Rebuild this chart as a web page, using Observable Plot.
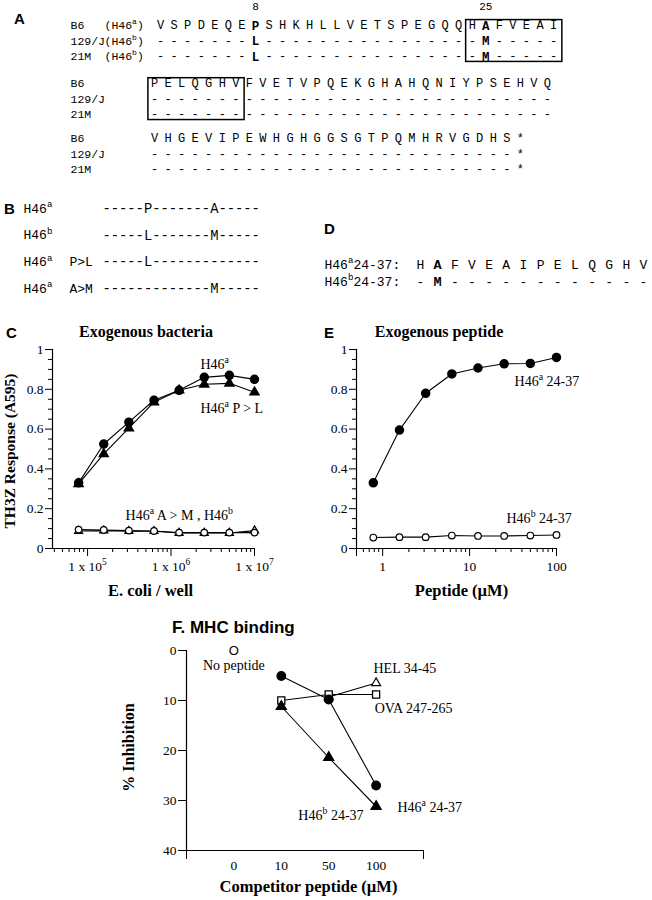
<!DOCTYPE html>
<html><head><meta charset="utf-8">
<script src="https://cdn.jsdelivr.net/npm/d3@7"></script>
<script src="https://cdn.jsdelivr.net/npm/@observablehq/plot@0.6"></script>
<style>
html,body{margin:0;padding:0;background:#fff;}
#fig{position:relative;width:652px;height:900px;overflow:hidden;background:#fff;color:#000;}
#fig svg{position:absolute;left:0;overflow:visible;max-width:none;}
.lab{position:absolute;white-space:nowrap;line-height:1;color:#000;}
.pl{font-family:"Liberation Sans",Arial,sans-serif;font-weight:bold;font-size:15px;}
.ttl{font-family:"Liberation Serif","Times New Roman",serif;font-weight:bold;font-size:16px;}
.ttlF{font-family:"Liberation Sans",Arial,sans-serif;font-weight:bold;font-size:17px;}
</style></head><body><div id="fig"></div>
<script>
// ================= DATA =================
// Panel A: sequence alignment
const seqStrains = ["B6", "129/J", "21M"];
const seqAlleles = ["(H46^a^)", "(H46^b^)", "(H46^b^)"];
const seqB6   = ["VSPDEQEPSHKHLLVETSPEGQQHAFVEAI", "PELQGHVFVETVPQEKGHAHQNIYPSEHVQ", "VHGEVIPEWHGHGGSGTPQMHRVGDHS*"];
const seq129J = ["-------L----------------M-----", "------------------------------", "---------------------------*"];
const seq21M  = ["-------L----------------M-----", "------------------------------", "---------------------------*"];
const seqBoldCols = [7, 24];            // residues 8 and 25 of block 1
const seqNumberCols = [7, 24];
const seqNumberLabels = ["8", "25"];
const seqBoxes = [{block: 0, from: 23, to: 29}, {block: 1, from: 0, to: 6}];

// Panel B: mutants
const mutNames = ["H46^a^", "H46^b^", "H46^a^", "H46^a^"];
const mutTags  = ["", "", "P>L", "A>M"];
const mutSeqs  = ["-----P-------A-----", "-----L-------M-----", "-----L-------------", "-------------M-----"];

// Panel D: peptides
const pepNames = ["H46^a^24-37:", "H46^b^24-37:"];
const pepSeqs  = ["HAFVEAIPELQGHV", "-M------------"];
const pepBoldCol = 1;

// Panel C: exogenous bacteria
const ecoliPerWell = [78125, 156250, 312500, 625000, 1250000, 2500000, 5000000, 10000000];
const bactH46a     = [0.33, 0.525, 0.635, 0.745, 0.795, 0.86, 0.87, 0.85];
const bactPtoL     = [0.325, 0.475, 0.605, 0.735, 0.795, 0.825, 0.83, 0.785];
const bactAtoM     = [0.088, 0.09, 0.087, 0.087, 0.078, 0.078, 0.078, 0.09];
const bactH46b     = [0.095, 0.093, 0.09, 0.088, 0.08, 0.08, 0.08, 0.08];
const bactYTicks   = [0, 0.2, 0.4, 0.6, 0.8, 1];
const bactXTicks   = [1e5, 1e6, 1e7];

// Panel E: exogenous peptide
const peptideUM  = [0.78, 1.56, 3.125, 6.25, 12.5, 25, 50, 100];
const pepRespA   = [0.33, 0.595, 0.78, 0.877, 0.907, 0.928, 0.93, 0.96];
const pepRespB   = [0.055, 0.057, 0.057, 0.065, 0.063, 0.063, 0.065, 0.068];
const pepXTicks  = [0.5, 1, 10, 100];

// Panel F: MHC binding
const competitorLabels = ["0", "10", "50", "100"];
const competitorConc   = ["10", "50", "100"];
const inhibH46a = [5.1, 9.8, 27];
const inhibH46b = [11.2, 21.4, 31.2];
const inhibOVA  = [10, 8.8, 8.8];
const inhibHELconc = ["50", "100"];
const inhibHEL  = [9.3, 6.5];
const inhibNone = 0;
const inhibYTicks = [0, 10, 20, 30, 40];

// ================= HELPERS =================
const serif = '"Liberation Serif","Times New Roman",Times,serif';
const mono = '"Liberation Mono","Courier New",Courier,monospace';
const fig = document.getElementById("fig");
const baseStyle = {fontFamily: serif, fontSize: "13.5px", background: "transparent", overflow: "visible", color: "black"};

function supify(root) {
  root.querySelectorAll("text").forEach(t => {
    const s = t.textContent;
    if (!s.includes("^")) return;
    const fs = parseFloat(getComputedStyle(t).fontSize) || 12;
    const up = fs * 0.42;
    const parts = s.split("^");
    t.textContent = "";
    let raised = false;
    parts.forEach((p, i) => {
      if (!p) return;
      const sup = i % 2 === 1;
      const ts = document.createElementNS("http://www.w3.org/2000/svg", "tspan");
      ts.textContent = p;
      if (sup) { ts.setAttribute("font-size", (fs * 0.7).toFixed(1)); if (!raised) { ts.setAttribute("dy", (-up).toFixed(1)); raised = true; } }
      else if (raised) { ts.setAttribute("dy", up.toFixed(1)); raised = false; }
      t.appendChild(ts);
    });
  });
}
function place(svg, top) {
  svg.style.position = "absolute";
  svg.style.left = "0px";
  svg.style.top = top + "px";
  fig.appendChild(svg);
  supify(svg);
}
function htmlLabel(text, x, y, cls, anchor) {
  const d = document.createElement("div");
  d.className = "lab " + cls;
  d.textContent = text;
  d.style.left = x + "px";
  d.style.top = y + "px";
  d.style.transform = anchor === "middle" ? "translate(-50%,-50%)" : "translate(0,-50%)";
  fig.appendChild(d);
}
const zip = (xs, ys) => xs.map((x, i) => ({x, y: ys[i]}));
const minorLinear = (max, step, majorStep) => d3.range(step, max, step).filter(v => Math.abs(v / majorStep - Math.round(v / majorStep)) > 1e-6);
const minorLog = (lo, hi) => { const out = []; for (let e = Math.floor(Math.log10(lo)); e <= Math.ceil(Math.log10(hi)); e++) for (let k = 2; k <= 9; k++) { const v = k * Math.pow(10, e); if (v > lo * 1.0001 && v < hi) out.push(v); } return out; };
const axisTitleX = (t, dx, dy) => Plot.text([t], {frameAnchor: "bottom", textAnchor: "middle", lineAnchor: "middle", dx, dy, fontWeight: "bold", fontSize: 16.5});
const axisTitleY = (t, dx, dy, fs) => Plot.text([t], {frameAnchor: "left", textAnchor: "middle", lineAnchor: "middle", rotate: -90, dx, dy, fontWeight: "bold", fontSize: fs});

// ================= PANEL A =================
{
  const blockStart = [0, 3.75, 7.3];
  const blockShift = [0.45, 0, 0];
  const rowsSeq = [seqB6, seq129J, seq21M];
  const letters = [];
  rowsSeq.forEach((blocks, r) => blocks.forEach((s, b) => [...s].forEach((ch, i) =>
    letters.push({ch, col: i + blockShift[b], row: blockStart[b] + r, bold: b === 0 && seqBoldCols.includes(i)}))));
  const names = [];
  blockStart.forEach((bs, b) => seqStrains.forEach((n, r) => names.push({row: bs + r, name: n, allele: b === 0 ? seqAlleles[r] : ""})));
  const nums = seqNumberCols.map((c, i) => ({col: c + blockShift[0], row: -1.25, label: seqNumberLabels[i]}));
  const svg = Plot.plot({
    width: 652, height: 185, margin: 0,
    style: baseStyle,
    x: {domain: [0, 29], range: [154, 154 + 29 * 13.55], axis: null},
    y: {domain: [0, 1], range: [25, 40.5], axis: null},
    marks: [
      Plot.text(letters.filter(d => !d.bold), {x: "col", y: "row", text: "ch", fontFamily: mono, fontSize: 12}),
      Plot.text(letters.filter(d => d.bold), {x: "col", y: "row", text: "ch", fontFamily: mono, fontSize: 12.5, fontWeight: "bold"}),
      Plot.text(names, {y: "row", text: "name", frameAnchor: "left", dx: 70, textAnchor: "start", fontFamily: mono, fontSize: 11.5}),
      Plot.text(names.filter(d => d.allele), {y: "row", text: "allele", frameAnchor: "left", dx: 104, textAnchor: "start", fontFamily: mono, fontSize: 11.5}),
      Plot.text(nums, {x: "col", y: "row", text: "label", fontFamily: mono, fontSize: 11}),
      Plot.rect(seqBoxes, {x1: d => d.from - 0.45 + blockShift[d.block], x2: d => d.to + 0.65 + blockShift[d.block],
        y1: d => blockStart[d.block] - 0.35, y2: d => blockStart[d.block] + 2.35, fill: "none", stroke: "black", strokeWidth: 1.5})
    ]
  });
  place(svg, 0);
}

// ================= PANEL B =================
{
  const rows = mutSeqs.map((s, i) => ({row: i, name: mutNames[i], tag: mutTags[i], seq: s}));
  const svg = Plot.plot({
    width: 320, height: 110, margin: 0,
    style: baseStyle,
    y: {domain: [0, 3], range: [18, 98], axis: null},
    marks: [
      Plot.text(rows, {y: "row", text: "name", frameAnchor: "left", dx: 23, textAnchor: "start", fontFamily: mono, fontSize: 13}),
      Plot.text(rows, {y: "row", text: "tag", frameAnchor: "left", dx: 69, textAnchor: "start", fontFamily: mono, fontSize: 13}),
      Plot.text(rows, {y: "row", text: "seq", frameAnchor: "left", dx: 102, textAnchor: "start", fontFamily: mono, fontSize: 13.8})
    ]
  });
  place(svg, 190);
}

// ================= PANEL D =================
{
  const letters = [];
  pepSeqs.forEach((s, r) => [...s].forEach((ch, i) => letters.push({ch, col: i, row: r, bold: i === pepBoldCol})));
  const rows = pepNames.map((n, i) => ({row: i, name: n}));
  const svg = Plot.plot({
    width: 652, height: 80, margin: 0,
    style: baseStyle,
    x: {domain: [0, 13], range: [420, 643], axis: null},
    y: {domain: [0, 1], range: [44, 61], axis: null},
    marks: [
      Plot.text(rows, {y: "row", text: "name", frameAnchor: "left", dx: 324, textAnchor: "start", fontFamily: mono, fontSize: 13}),
      Plot.text(letters.filter(d => !d.bold), {x: "col", y: "row", text: "ch", fontFamily: mono, fontSize: 13}),
      Plot.text(letters.filter(d => d.bold), {x: "col", y: "row", text: "ch", fontFamily: mono, fontSize: 13.5, fontWeight: "bold"})
    ]
  });
  place(svg, 220);
}

// ================= PANEL C =================
{
  const xMin = 3.8e4;
  const svg = Plot.plot({
    width: 652, height: 300, marginLeft: 52, marginRight: 398, marginTop: 29, marginBottom: 72,
    style: baseStyle,
    x: {type: "log", domain: [xMin, 1e7]},
    y: {domain: [0, 1]},
    marks: [
      Plot.ruleX([xMin], {strokeWidth: 1.2}),
      Plot.ruleY([0], {strokeWidth: 1.2}),
      Plot.axisY(bactYTicks, {tickSize: 7, tickPadding: 2, tickFormat: d => String(d), label: null}),
      Plot.axisY(minorLinear(1, 0.05, 0.2), {tickSize: 4, fill: "none", tickFormat: () => "", label: null}),
      Plot.axisX(bactXTicks, {tickSize: 8, tickPadding: 5, tickFormat: d => "1 x 10^" + Math.round(Math.log10(d)) + "^", label: null}),
      Plot.axisX(minorLog(xMin, 1e7), {tickSize: 4, fill: "none", tickFormat: () => "", label: null}),
      Plot.line(zip(ecoliPerWell, bactAtoM), {x: "x", y: "y", stroke: "black", strokeWidth: 1.1}),
      Plot.line(zip(ecoliPerWell, bactH46b), {x: "x", y: "y", stroke: "black", strokeWidth: 1.1}),
      Plot.line(zip(ecoliPerWell, bactPtoL), {x: "x", y: "y", stroke: "black", strokeWidth: 1.1}),
      Plot.line(zip(ecoliPerWell, bactH46a), {x: "x", y: "y", stroke: "black", strokeWidth: 1.1}),
      Plot.dot(zip(ecoliPerWell, bactAtoM), {x: "x", y: "y", symbol: "triangle", r: 3, fill: "white", stroke: "black", strokeWidth: 1.2}),
      Plot.dot(zip(ecoliPerWell, bactH46b), {x: "x", y: "y", symbol: "circle", r: 3.3, fill: "white", stroke: "black", strokeWidth: 1.2}),
      Plot.dot(zip(ecoliPerWell, bactPtoL), {x: "x", y: "y", symbol: "triangle", r: 3.3, fill: "black", stroke: "black"}),
      Plot.dot(zip(ecoliPerWell, bactH46a), {x: "x", y: "y", symbol: "circle", r: 4, fill: "black", stroke: "black"}),
      Plot.text([{x: 2.25e6, y: 0.925, t: "H46^a^"}, {x: 2.25e6, y: 0.705, t: "H46^a^ P > L"}, {x: 2.85e5, y: 0.165, t: "H46^a^ A > M , H46^b^"}],
        {x: "x", y: "y", text: "t", textAnchor: "start", fontSize: 14}),
      axisTitleX("E. coli / well", -3, 42),
      axisTitleY("TH3Z Response (A595)", -42, 2, 15.5)
    ]
  });
  place(svg, 320);
}

// ================= PANEL E =================
{
  const svg = Plot.plot({
    width: 652, height: 300, marginLeft: 356, marginRight: 96, marginTop: 29, marginBottom: 72,
    style: baseStyle,
    x: {type: "log", domain: [0.5, 100]},
    y: {domain: [0, 1]},
    marks: [
      Plot.ruleX([0.5], {strokeWidth: 1.2}),
      Plot.ruleY([0], {strokeWidth: 1.2}),
      Plot.axisY(bactYTicks, {tickSize: 7, tickPadding: 2, tickFormat: d => String(d), label: null}),
      Plot.axisY(minorLinear(1, 0.05, 0.2), {tickSize: 4, fill: "none", tickFormat: () => "", label: null}),
      Plot.axisX(pepXTicks, {tickSize: 8, tickPadding: 5, tickFormat: d => String(d), label: null}),
      Plot.axisX(minorLog(0.5, 100), {tickSize: 4, fill: "none", tickFormat: () => "", label: null}),
      Plot.line(zip(peptideUM, pepRespB), {x: "x", y: "y", stroke: "black", strokeWidth: 1.1}),
      Plot.line(zip(peptideUM, pepRespA), {x: "x", y: "y", stroke: "black", strokeWidth: 1.1}),
      Plot.dot(zip(peptideUM, pepRespB), {x: "x", y: "y", symbol: "circle", r: 3.3, fill: "white", stroke: "black", strokeWidth: 1.2}),
      Plot.dot(zip(peptideUM, pepRespA), {x: "x", y: "y", symbol: "circle", r: 4, fill: "black", stroke: "black"}),
      Plot.text([{x: 32.9, y: 0.84, t: "H46^a^ 24-37"}, {x: 26.6, y: 0.15, t: "H46^b^ 24-37"}],
        {x: "x", y: "y", text: "t", textAnchor: "start", fontSize: 14}),
      axisTitleX("Peptide (\u00b5M)", 5, 42)
    ]
  });
  place(svg, 320);
}

// ================= PANEL F =================
{
  const ix = c => competitorLabels.indexOf(c);
  const ser = (concs, vals) => concs.map((c, i) => ({x: ix(c), y: vals[i]}));
  const svg = Plot.plot({
    width: 652, height: 260, marginLeft: 186, marginRight: 229, marginTop: 10, marginBottom: 50,
    style: baseStyle,
    x: {domain: [-1, competitorLabels.length]},
    y: {domain: [0, 40], reverse: true},
    marks: [
      Plot.ruleX([-1], {strokeWidth: 1.2}),
      Plot.ruleY([40], {strokeWidth: 1.2}),
      Plot.axisY(inhibYTicks, {tickSize: 8, tickPadding: 2, label: null}),
      Plot.axisX(competitorLabels.map((_, i) => i), {tickSize: 0, tickPadding: 10, tickFormat: i => competitorLabels[i], label: null}),
      Plot.axisX([-1, competitorLabels.length], {tickSize: 9, fill: "none", tickFormat: () => "", label: null}),
      Plot.line(ser(inhibHELconc, inhibHEL), {x: "x", y: "y", stroke: "black", strokeWidth: 1.1}),
      Plot.line(ser(competitorConc, inhibOVA), {x: "x", y: "y", stroke: "black", strokeWidth: 1.1}),
      Plot.line(ser(competitorConc, inhibH46b), {x: "x", y: "y", stroke: "black", strokeWidth: 1.1}),
      Plot.line(ser(competitorConc, inhibH46a), {x: "x", y: "y", stroke: "black", strokeWidth: 1.1}),
      Plot.dot(ser(inhibHELconc, inhibHEL), {x: "x", y: "y", symbol: "triangle", r: 3.3, fill: "white", stroke: "black", strokeWidth: 1.2}),
      Plot.dot(ser(competitorConc, inhibOVA), {x: "x", y: "y", symbol: "square", r: 4, fill: "white", stroke: "black", strokeWidth: 1.3}),
      Plot.dot(ser(competitorConc, inhibH46b), {x: "x", y: "y", symbol: "triangle", r: 3.6, fill: "black", stroke: "black"}),
      Plot.dot(ser(competitorConc, inhibH46a), {x: "x", y: "y", symbol: "circle", r: 4.2, fill: "black", stroke: "black"}),
      Plot.text([{x: ix("0"), y: inhibNone}], {x: "x", y: "y", text: () => "O", fontFamily: '"Liberation Sans",Arial,sans-serif', fontSize: 13}),
      Plot.text([{x: ix("0"), y: 3, t: "No peptide"}], {x: "x", y: "y", text: "t", fontSize: 14}),
      Plot.text([{x: 2.945, y: 3.6, t: "HEL 34-45"}, {x: 2.97, y: 11.6, t: "OVA 247-265"}, {x: 1.36, y: 33, t: "H46^b^ 24-37"}, {x: 3.45, y: 31.4, t: "H46^a^ 24-37"}],
        {x: "x", y: "y", text: "t", textAnchor: "start", fontSize: 14}),
      axisTitleX("Competitor peptide (\u00b5M)", 3.5, 36),
      axisTitleY("% Inhibition", -58, -3, 16)
    ]
  });
  place(svg, 640);
}

// ================= PANEL LETTERS & TITLES =================
htmlLabel("A", 14, 18, "pl");
htmlLabel("B", 4, 208, "pl");
htmlLabel("C", 6, 332, "pl");
htmlLabel("D", 324, 228, "pl");
htmlLabel("E", 324, 332, "pl");
htmlLabel("Exogenous bacteria", 146, 332, "ttl", "middle");
htmlLabel("Exogenous peptide", 439, 332, "ttl", "middle");
htmlLabel("F. MHC binding", 172, 627, "ttlF");
</script></body></html>
